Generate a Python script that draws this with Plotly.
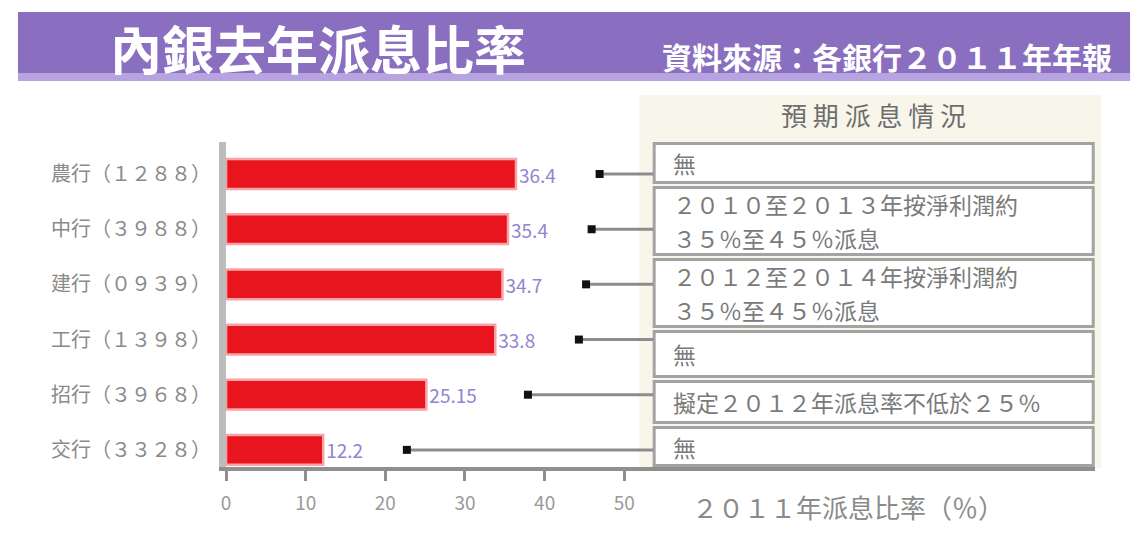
import plotly.graph_objects as go

# ---------------- data ----------------
banks = ["農行（１２８８）", "中行（３９８８）", "建行（０９３９）", "工行（１３９８）", "招行（３９６８）", "交行（３３２８）"]
ratios = [36.4, 35.4, 34.7, 33.8, 25.15, 12.2]
ratio_labels = ["36.4", "35.4", "34.7", "33.8", "25.15", "12.2"]
notes = [
    ["無"],
    ["２０１０至２０１３年按淨利潤約", "３５％至４５％派息"],
    ["２０１２至２０１４年按淨利潤約", "３５％至４５％派息"],
    ["無"],
    ["擬定２０１２年派息率不低於２５％"],
    ["無"],
]
x_ticks = [0, 10, 20, 30, 40, 50]
title_text = "內銀去年派息比率"
source_text = "資料來源：各銀行２０１１年年報"
table_header = "預 期 派 息 情 況"
x_title = "２０１１年派息比率（％）"

# ---------------- layout helpers ----------------
OFF = 8                     # page body margin
W, H = 1144 - OFF, 540 - OFF
FONT = "Noto Sans CJK TC"


def px(x):
    return (x - OFF) / W


def py(y):
    return 1 - (y - OFF) / H


X0, X1 = 222, 1095          # plot area in reference pixels
Y0, Y1 = 142, 467
PX_PER_UNIT = 8.0
x_max = (X1 - X0) / PX_PER_UNIT
box_left_val = (651 - X0) / PX_PER_UNIT

fig = go.Figure()

fig.add_trace(go.Bar(
    y=banks, x=ratios, orientation="h",
    marker=dict(color="#e8141e", line=dict(color="#f7a3a8", width=2.5)),
    width=0.54,
    text=ratio_labels, textposition="outside",
    textfont=dict(color="#9384d2", size=19, family=FONT),
    cliponaxis=False, showlegend=False, hoverinfo="skip",
))

# connector lines from label to table
for b, v, lab in zip(banks, ratios, ratio_labels):
    start = v + 1.5 + 2.25 * len(lab)
    fig.add_trace(go.Scatter(
        x=[start, box_left_val], y=[b, b], mode="lines",
        line=dict(color="#8c8c8c", width=3), showlegend=False, hoverinfo="skip",
    ))
    fig.add_trace(go.Scatter(
        x=[start], y=[b], mode="markers",
        marker=dict(color="#111111", size=8, symbol="square"),
        showlegend=False, hoverinfo="skip",
    ))

shapes = []
# title band
shapes.append(dict(type="rect", xref="paper", yref="paper",
                   x0=px(13), x1=px(1130), y0=py(12), y1=py(81),
                   fillcolor="#8a6fc0", line=dict(width=0), layer="below"))
shapes.append(dict(type="rect", xref="paper", yref="paper",
                   x0=px(13), x1=px(1130), y0=py(73), y1=py(81),
                   fillcolor="#b6a3df", line=dict(width=0), layer="below"))
# cream panel
shapes.append(dict(type="rect", xref="paper", yref="paper",
                   x0=px(637), x1=px(1101), y0=py(95), y1=py(468),
                   fillcolor="#f8f6ea", line=dict(width=0), layer="below"))

rows = [(142, 184), (186, 256), (258, 328), (330, 378), (380, 424), (426, 467)]
LINE_GAP = 34
annotations = []
for (t, b), lines in zip(rows, notes):
    shapes.append(dict(type="rect", xref="paper", yref="paper",
                       x0=px(652), x1=px(1093), y0=py(t + 1.5), y1=py(b - 1.5),
                       fillcolor="white", line=dict(color="#a3a3a3", width=3),
                       layer="below"))
    mid = (t + b) / 2
    first = mid - LINE_GAP * (len(lines) - 1) / 2
    for i, line in enumerate(lines):
        annotations.append(dict(xref="paper", yref="paper", x=px(669),
                                y=py(first + i * LINE_GAP),
                                text=line, showarrow=False, xanchor="left", yanchor="middle",
                                align="left",
                                font=dict(family=FONT, size=23, color="#7a7a7a")))

annotations += [
    dict(xref="paper", yref="paper", x=px(103), y=py(47), text="<b>" + title_text + "</b>",
         showarrow=False, font=dict(family=FONT, size=52, color="white"),
         xanchor="left", yanchor="middle"),
    dict(xref="paper", yref="paper", x=px(1114), y=py(56), text="<b>" + source_text + "</b>",
         showarrow=False, font=dict(family=FONT, size=30, color="white"),
         xanchor="right", yanchor="middle"),
    dict(xref="paper", yref="paper", x=px(872), y=py(114), text=table_header,
         showarrow=False, font=dict(family=FONT, size=26, color="#6e6e6e"),
         xanchor="center", yanchor="middle"),
    dict(xref="paper", yref="paper", x=px(688), y=py(506), text=x_title,
         showarrow=False, font=dict(family=FONT, size=26, color="#8a8a8a"),
         xanchor="left", yanchor="middle"),
]

fig.update_layout(
    width=W, height=H,
    margin=dict(l=0, r=0, t=0, b=0),
    paper_bgcolor="white", plot_bgcolor="rgba(0,0,0,0)",
    shapes=shapes, annotations=annotations,
    xaxis=dict(domain=[px(X0), px(X1)], range=[0, x_max],
               tickvals=x_ticks, ticktext=[str(t) for t in x_ticks],
               showgrid=False, zeroline=False,
               showline=True, linecolor="#8f8f8f", linewidth=4,
               ticks="outside", ticklen=10, tickwidth=3, tickcolor="#8f8f8f",
               ticklabelstandoff=6,
               tickfont=dict(family=FONT, size=19, color="#9a9a9a")),
    yaxis=dict(domain=[py(Y1), py(Y0)], range=[5.31, -0.58],
               categoryorder="array", categoryarray=banks,
               showgrid=False, zeroline=False,
               showline=True, linecolor="#bcbcbc", linewidth=7,
               ticks="", ticklabelstandoff=4,
               tickfont=dict(family=FONT, size=20, color="#8a8a8a")),
)

fig.write_html("out.html")
